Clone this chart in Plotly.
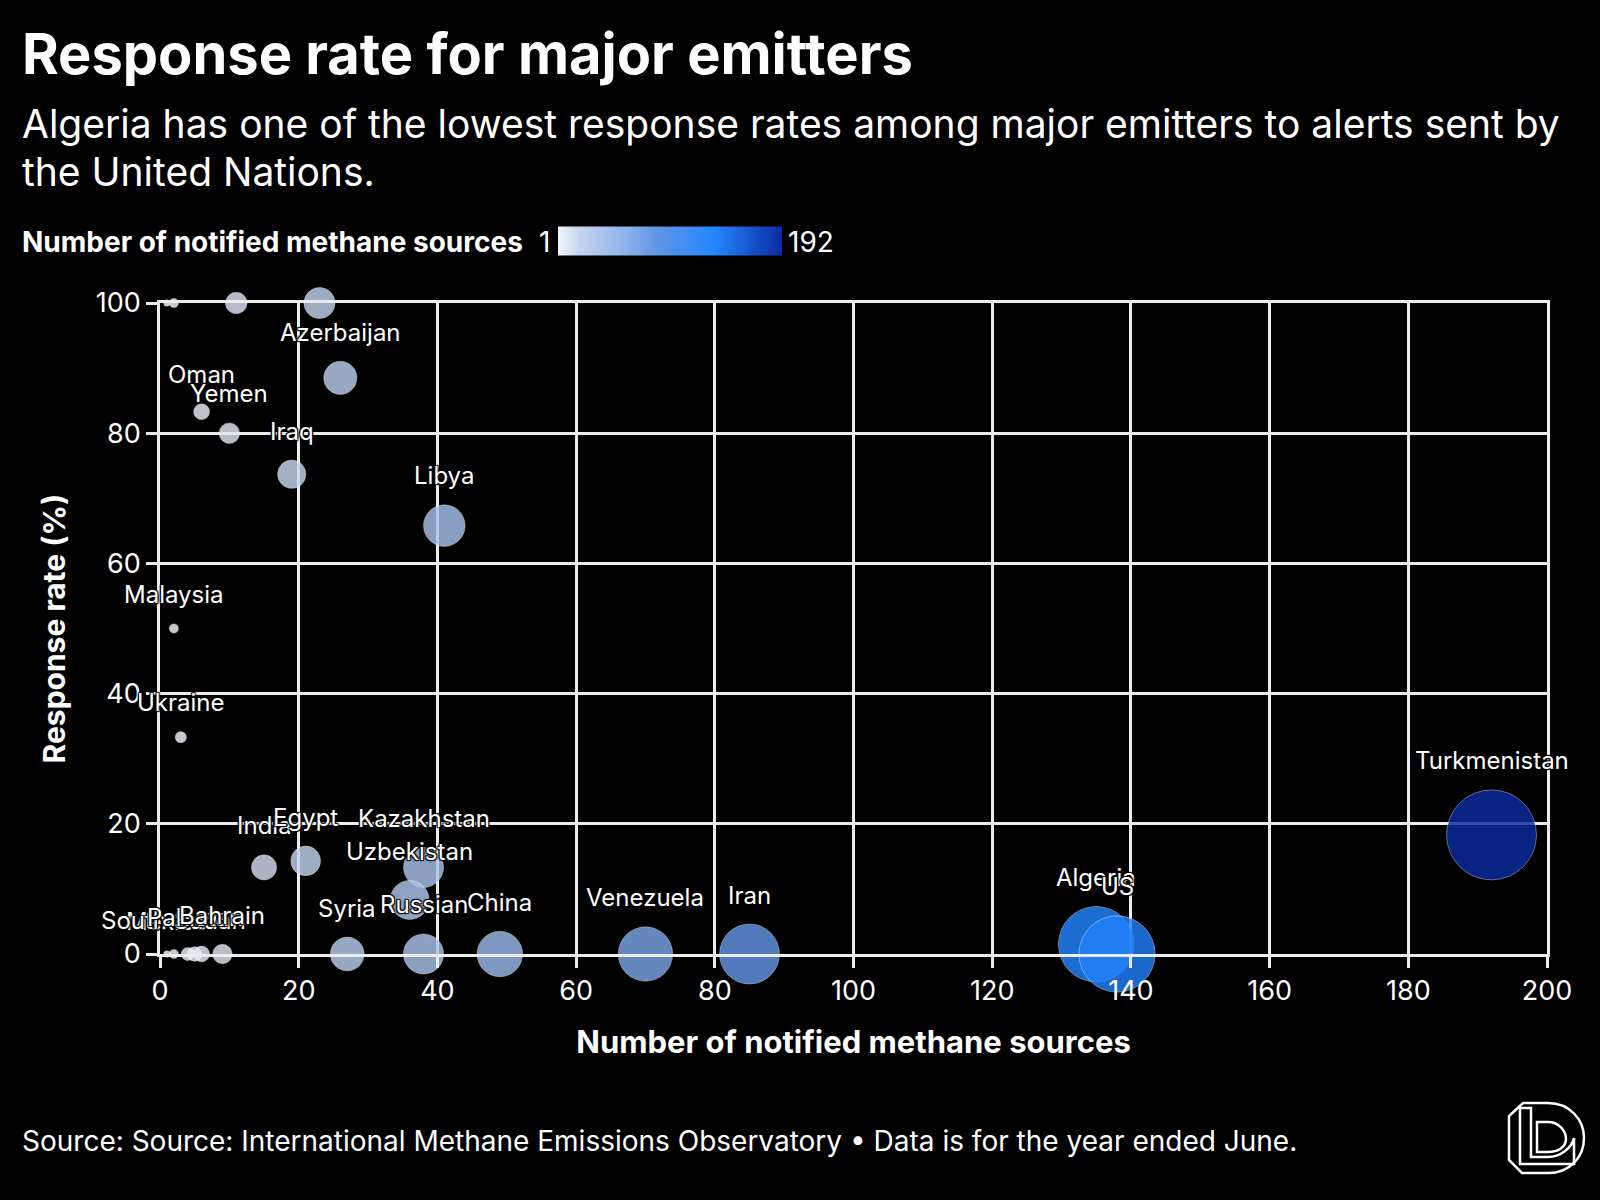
import plotly.graph_objects as go

# Data: number of notified methane sources vs response rate (%)
countries = ["", "", "", "", "Azerbaijan", "Oman", "Yemen", "Iraq", "Libya",
             "Malaysia", "Ukraine", "India", "Egypt", "Kazakhstan", "Uzbekistan",
             "Mexico", "South Sudan", "", "Pakistan", "", "Bahrain",
             "Syria", "Russian", "China", "Venezuela", "Iran", "Algeria", "US",
             "Turkmenistan"]
sources = [1, 2, 11, 23, 26, 6, 10, 19, 41,
           2, 3, 15, 21, 38, 36,
           1, 2, 4, 5, 6, 9,
           27, 38, 49, 70, 85, 135, 138,
           192]
response = [100, 100, 100, 100, 88.5, 83.3, 80, 73.7, 65.8,
            50, 33.3, 13.3, 14.3, 13.3, 8.3,
            0, 0, 0, 0, 0, 0,
            0, 0, 0, 0, 0, 1.5, 0,
            18.3]

x_ticks = [0, 20, 40, 60, 80, 100, 120, 140, 160, 180, 200]
y_ticks = [0, 20, 40, 60, 80, 100]

W, H = 1600, 1200
L, R, T, B = 160, 1547, 303, 954
FONT = "Inter"
D_MAX = 90  # bubble diameter (px) for the largest value
SIZEREF = 2 * 192 / D_MAX ** 2

colorscale = [[0, "#f4f7fc"], [0.1, "#c4d4ee"], [0.3, "#8fb2ec"], [0.45, "#5f93e6"],
              [0.7, "#2386ff"], [1, "#0b2ba0"]]


def px(x):
    return (x - L) / (R - L)


def py(y):
    return (B - y) / (B - T)


fig = go.Figure()

fig.add_trace(go.Scatter(
    x=sources, y=response, mode="markers",
    marker=dict(size=sources, sizemode="area", sizeref=SIZEREF, sizemin=3,
                color=sources, cmin=1, cmax=192, colorscale=colorscale,
                opacity=0.82, line=dict(color="rgba(255,255,255,0.45)", width=1),
                showscale=True,
                colorbar=dict(orientation="h", xref="paper", yref="paper",
                              x=px(558), xanchor="left", y=py(241), yanchor="middle",
                              lenmode="pixels", len=224, thickness=29,
                              outlinewidth=0, xpad=0, ypad=0,
                              showticklabels=False, ticks="")),
    cliponaxis=False, hoverinfo="x+y+text", text=countries,
))

shadow = "1px 1px 1px #000, -1px -1px 1px #000, 1px -1px 1px #000, -1px 1px 1px #000"
annotations = []
for name, xv, yv in zip(countries, sources, response):
    if not name:
        continue
    r = D_MAX * (xv / 192) ** 0.5 / 2
    annotations.append(dict(x=xv, y=yv, xref="x", yref="y", text=name, showarrow=False,
                            yanchor="middle", yshift=r + 29,
                            font=dict(family=FONT, size=24, color="white", shadow=shadow)))

# Titles and notes
annotations += [
    dict(x=px(20), y=py(54), xref="paper", yref="paper", xanchor="left", yanchor="middle",
         text="<b>Response rate for major emitters</b>", showarrow=False,
         font=dict(family=FONT, size=56, color="white")),
    dict(x=px(20), y=py(124), xref="paper", yref="paper", xanchor="left", yanchor="middle",
         align="left", showarrow=False,
         text="Algeria has one of the lowest response rates among major emitters to alerts sent by",
         font=dict(family=FONT, size=39, color="white")),
    dict(x=px(20), y=py(171), xref="paper", yref="paper", xanchor="left", yanchor="middle",
         align="left", showarrow=False, text="the United Nations.",
         font=dict(family=FONT, size=39, color="white")),
    dict(x=px(20), y=py(242), xref="paper", yref="paper", xanchor="left", yanchor="middle",
         text="<b>Number of notified methane sources</b>", showarrow=False,
         font=dict(family=FONT, size=28, color="white")),
    dict(x=px(552), y=py(242), xref="paper", yref="paper", xanchor="right", yanchor="middle",
         text="1", showarrow=False, font=dict(family=FONT, size=28, color="white")),
    dict(x=px(786), y=py(242), xref="paper", yref="paper", xanchor="left", yanchor="middle",
         text="192", showarrow=False, font=dict(family=FONT, size=28, color="white")),
    dict(x=px(20), y=py(1141), xref="paper", yref="paper", xanchor="left", yanchor="middle",
         text="Source: Source: International Methane Emissions Observatory \u2022 Data is for the year ended June.",
         showarrow=False, font=dict(family=FONT, size=28, color="white")),
]


# Logo (bottom right)
def path(points):
    out = ""
    for cmd, pts in points:
        out += cmd + " ".join(f"{px(a):.5f},{py(b):.5f}" for a, b in pts) + " "
    return out.strip()


logo_outer = path([("M", [(1523, 1103)]), ("L", [(1548, 1103)]),
                   ("C", [(1570, 1103), (1584, 1120), (1584, 1138)]),
                   ("C", [(1584, 1157), (1570, 1173), (1548, 1173)]),
                   ("L", [(1522, 1173)]), ("L", [(1509, 1160)]), ("L", [(1509, 1116)]), ("Z", [])])
logo_l = path([("M", [(1520, 1108)]), ("L", [(1531, 1108)]), ("L", [(1531, 1157)]),
               ("L", [(1548, 1157)]), ("C", [(1560, 1157), (1572, 1148), (1574, 1138)]),
               ("L", [(1574, 1164)]), ("L", [(1520, 1164)]), ("Z", [])])
logo_b = path([("M", [(1537, 1122)]), ("L", [(1548, 1122)]),
               ("C", [(1558, 1122), (1566, 1130), (1566, 1139)]),
               ("C", [(1566, 1147), (1558, 1152), (1548, 1152)]),
               ("L", [(1537, 1152)]), ("Z", [])])
shapes = [dict(type="path", xref="paper", yref="paper", path=p,
               line=dict(color="white", width=2.5), fillcolor="rgba(0,0,0,0)")
          for p in (logo_outer, logo_l, logo_b)]

axis_common = dict(showgrid=True, gridcolor="#ececec", gridwidth=2.5, zeroline=False,
                   showline=True, mirror=True, linecolor="#ececec", linewidth=2.5,
                   ticks="outside", ticklen=11, tickwidth=2.5, tickcolor="#ececec",
                   tickfont=dict(family=FONT, size=27, color="white"))

fig.update_layout(
    width=W, height=H,
    paper_bgcolor="black", plot_bgcolor="black",
    margin=dict(l=L, r=W - R, t=T, b=H - B),
    showlegend=False,
    font=dict(family=FONT, color="white"),
    xaxis=dict(range=[0, 200], tickvals=x_ticks,
               title=dict(text="<b>Number of notified methane sources</b>", standoff=26,
                          font=dict(family=FONT, size=31, color="white")),
               **axis_common),
    yaxis=dict(range=[0, 100], tickvals=y_ticks,
               title=dict(text="<b>Response rate (%)</b>", standoff=22,
                          font=dict(family=FONT, size=30, color="white")),
               **axis_common),
    annotations=annotations,
    shapes=shapes,
)

fig.write_html("out.html", config={"displayModeBar": False},
               post_script="document.body.style.margin='0';document.body.style.background='black';")
